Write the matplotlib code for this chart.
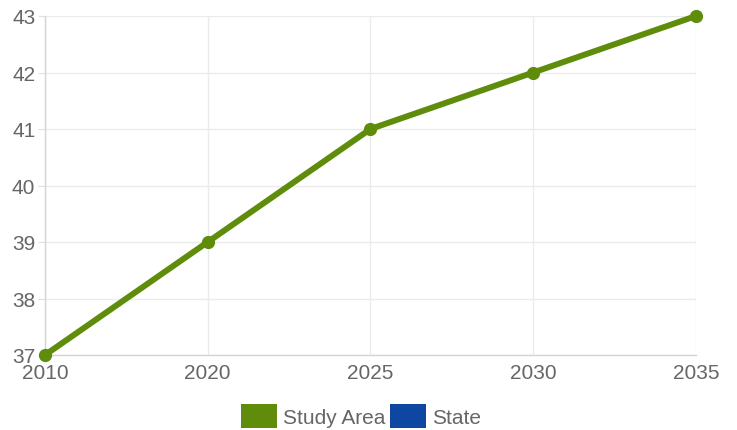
import matplotlib
matplotlib.use("Agg")
from matplotlib import pyplot as plt
from matplotlib.patches import Patch

plt.rcParams['font.family'] = ['Liberation Sans', 'DejaVu Sans']

years = ["2010", "2020", "2025", "2030", "2035"]
study_area = [37, 39, 41, 42, 43]
series_names = ["Study Area", "State"]
series_colors = ["#5f8c0b", "#0d47a1"]

text_color = "#666666"

fig = plt.figure(figsize=(7.37, 4.31), dpi=100)
ax = fig.add_axes([45/737, 1-356/431, (696-45)/737, (356-17)/431])

x = range(len(years))
ax.plot(x, study_area, color=series_colors[0], linewidth=4.3,
        marker="o", markersize=8.5, solid_capstyle="round", zorder=3, clip_on=False)

ax.set_xlim(0, len(years) - 1)
ax.set_ylim(37, 43)
ax.set_xticks(list(x))
ax.set_xticklabels(years)
ax.set_yticks(range(37, 44))

ax.grid(True, color="#ebebeb", linewidth=1)
ax.set_axisbelow(True)
for side in ["top", "right"]:
    ax.spines[side].set_visible(False)
for side in ["left", "bottom"]:
    ax.spines[side].set_color("#d4d4d4")
    ax.spines[side].set_linewidth(1)

ax.tick_params(axis="y", colors="#e0e0e0", labelcolor=text_color, labelsize=15, length=5, pad=2)
ax.tick_params(axis="x", colors="#e0e0e0", labelcolor=text_color, labelsize=15, length=0, pad=6)

handles = [Patch(facecolor=c, edgecolor="none") for c in series_colors]
leg = fig.legend(handles, series_names, loc="center", bbox_to_anchor=(361/737, 1-417/431),
                 ncol=2, frameon=False, fontsize=15, handlelength=1.75, handleheight=1.45,
                 handletextpad=0.3, columnspacing=0.2, borderpad=0, borderaxespad=0)
for t in leg.get_texts():
    t.set_color(text_color)

fig.savefig("out.png", dpi=100)
